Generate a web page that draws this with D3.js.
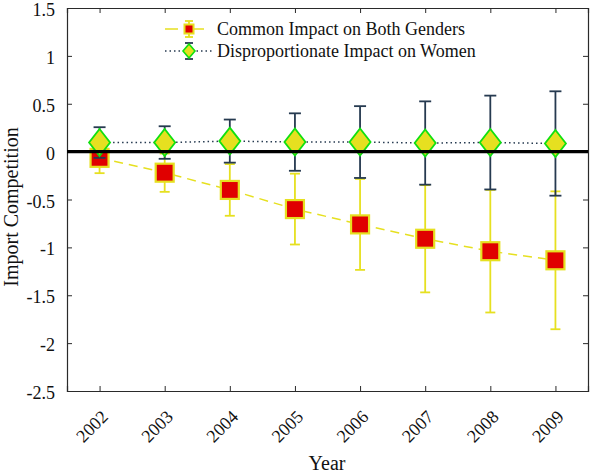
<!DOCTYPE html>
<html>
<head>
<meta charset="utf-8">
<script src="https://cdn.jsdelivr.net/npm/d3@7"></script>
<style>
  body { margin: 0; background: #fff; }
  svg { display: block; }
  text { font-family: "Liberation Serif", "Times New Roman", Times, "DejaVu Serif", serif; fill: #111; }
</style>
</head>
<body>
<svg id="chart" width="592" height="474"></svg>
<script>
// Years on the x axis
const years = [2002, 2003, 2004, 2005, 2006, 2007, 2008, 2009];

// Common impact on both genders: estimate and error-bar half width
const commonValues = [-0.065, -0.22, -0.40, -0.60, -0.76, -0.91, -1.04, -1.135];
const commonErr    = [0.16, 0.20, 0.27, 0.37, 0.475, 0.56, 0.64, 0.72];

// Disproportionate impact on women: estimate and error-bar half width
const womenValues = [0.095, 0.095, 0.11, 0.10, 0.10, 0.09, 0.095, 0.085];
const womenErr    = [0.16, 0.17, 0.225, 0.30, 0.375, 0.435, 0.49, 0.545];

const yTicks = [1.5, 1, 0.5, 0, -0.5, -1, -1.5, -2, -2.5];

const seriesLabels = ["Common Impact on Both Genders", "Disproportionate Impact on Women"];

const YELLOW = "#e6e020", RED = "#e00000", GREEN = "#10e010", NAVY = "#263a50", AXIS = "#2a2a2a";
const FONT = '"Liberation Serif", "Times New Roman", Times, "DejaVu Serif", serif';

const svg = d3.select("#chart");
const margin = { left: 67, right: 4, top: 8, bottom: 83 };
const W = 592, H = 474;

const x = d3.scaleLinear().domain([2001.5, 2009.5]).range([margin.left, W - margin.right]);
const y = d3.scaleLinear().domain([-2.5, 1.5]).range([H - margin.bottom, margin.top]);

const common = years.map((yr, i) => ({ yr, v: commonValues[i], e: commonErr[i] }));
const women = years.map((yr, i) => ({ yr, v: womenValues[i], e: womenErr[i] }));

// Axes box with inward ticks on all four sides
const axG = svg.append("g");
const axBottom = axG.append("g").attr("transform", `translate(0,${y(-2.5)})`)
  .call(d3.axisBottom(x).tickValues(years).tickSize(-5).tickFormat(d => String(d)));
const axTop = axG.append("g").attr("transform", `translate(0,${y(1.5)})`)
  .call(d3.axisTop(x).tickValues(years).tickSize(-5).tickFormat(""));
const axLeft = axG.append("g").attr("transform", `translate(${x(2001.5)},0)`)
  .call(d3.axisLeft(y).tickValues(yTicks).tickSize(-5).tickPadding(12).tickFormat(d => String(d)));
const axRight = axG.append("g").attr("transform", `translate(${x(2009.5)},0)`)
  .call(d3.axisRight(y).tickValues(yTicks).tickSize(-5).tickFormat(""));

[axBottom, axTop, axLeft, axRight].forEach(g => {
  g.attr("font-family", FONT);
  g.select(".domain").attr("stroke", AXIS).attr("stroke-width", 1.2);
  g.selectAll(".tick line").attr("stroke", AXIS).attr("stroke-width", 1);
});
axLeft.selectAll(".tick text").attr("font-size", 18).attr("fill", "#111").attr("dy", "0.42em");
axBottom.selectAll(".tick text")
  .attr("font-size", 18).attr("fill", "#111")
  .attr("text-anchor", "end")
  .attr("dy", null).attr("y", null)
  .attr("transform", "translate(9,27) rotate(-45)");

// Error bars helper
function errorBars(data, color, width, cap) {
  const g = svg.append("g").attr("stroke", color).attr("stroke-width", width).attr("fill", "none");
  data.forEach(d => {
    const cx = x(d.yr), y0 = y(d.v - d.e), y1 = y(d.v + d.e);
    g.append("line").attr("x1", cx).attr("x2", cx).attr("y1", y0).attr("y2", y1);
    g.append("line").attr("x1", cx - cap).attr("x2", cx + cap).attr("y1", y0).attr("y2", y0);
    g.append("line").attr("x1", cx - cap).attr("x2", cx + cap).attr("y1", y1).attr("y2", y1);
  });
}

const line = d3.line().x(d => x(d.yr)).y(d => y(d.v));

// Common impact series
errorBars(common, YELLOW, 1.8, 5);
svg.append("path").datum(common).attr("d", line)
  .attr("fill", "none").attr("stroke", YELLOW).attr("stroke-width", 1.5).attr("stroke-dasharray", "9,6");
svg.append("g").selectAll("rect").data(common).join("rect")
  .attr("x", d => x(d.yr) - 9).attr("y", d => y(d.v) - 9)
  .attr("width", 18).attr("height", 18)
  .attr("fill", RED).attr("stroke", YELLOW).attr("stroke-width", 2.2);

// Women series
errorBars(women, NAVY, 1.8, 6);
svg.append("path").datum(women).attr("d", line)
  .attr("fill", "none").attr("stroke", NAVY).attr("stroke-width", 1.5).attr("stroke-dasharray", "1.5,3");
const diamond = (cx, cy, hw, hh) => `M${cx},${cy - hh}L${cx + hw},${cy}L${cx},${cy + hh}L${cx - hw},${cy}Z`;
svg.append("g").selectAll("path").data(women).join("path")
  .attr("d", d => diamond(x(d.yr), y(d.v), 10.5, 13.5))
  .attr("fill", YELLOW).attr("stroke", GREEN).attr("stroke-width", 1.8);

// Zero reference line
svg.append("line")
  .attr("x1", x(2001.5)).attr("x2", x(2009.5)).attr("y1", y(0)).attr("y2", y(0))
  .attr("stroke", "#000").attr("stroke-width", 3.2);

// Axis titles
svg.append("text").attr("x", 327).attr("y", 470).attr("text-anchor", "middle")
  .attr("font-size", 20).text("Year");
svg.append("text").attr("transform", "translate(18,207) rotate(-90)")
  .attr("text-anchor", "middle").attr("font-size", 20).text("Import Competition");

// Legend
const lg = svg.append("g");
const lx0 = 165, lx1 = 213, lmx = 189;
const rows = [29, 51];
// row 1
lg.append("line").attr("x1", lx0).attr("x2", lx1).attr("y1", rows[0]).attr("y2", rows[0])
  .attr("stroke", YELLOW).attr("stroke-width", 1.5).attr("stroke-dasharray", "13,13");
lg.append("line").attr("x1", lmx).attr("x2", lmx).attr("y1", rows[0] - 8).attr("y2", rows[0] + 8)
  .attr("stroke", YELLOW).attr("stroke-width", 1.8);
[-8, 8].forEach(o => lg.append("line").attr("x1", lmx - 4).attr("x2", lmx + 4)
  .attr("y1", rows[0] + o).attr("y2", rows[0] + o).attr("stroke", YELLOW).attr("stroke-width", 1.8));
lg.append("rect").attr("x", lmx - 4.5).attr("y", rows[0] - 4.5).attr("width", 9).attr("height", 9)
  .attr("fill", RED).attr("stroke", YELLOW).attr("stroke-width", 2);
// row 2
lg.append("line").attr("x1", lx0).attr("x2", lx1).attr("y1", rows[1]).attr("y2", rows[1])
  .attr("stroke", NAVY).attr("stroke-width", 1.5).attr("stroke-dasharray", "1.5,3");
lg.append("line").attr("x1", lmx).attr("x2", lmx).attr("y1", rows[1] - 8).attr("y2", rows[1] + 8)
  .attr("stroke", NAVY).attr("stroke-width", 1.8);
[-8, 8].forEach(o => lg.append("line").attr("x1", lmx - 4).attr("x2", lmx + 4)
  .attr("y1", rows[1] + o).attr("y2", rows[1] + o).attr("stroke", NAVY).attr("stroke-width", 1.8));
lg.append("path").attr("d", diamond(lmx, rows[1], 6, 7))
  .attr("fill", YELLOW).attr("stroke", GREEN).attr("stroke-width", 1.6);
seriesLabels.forEach((t, i) => lg.append("text").attr("x", 217).attr("y", rows[i])
  .attr("dy", "0.35em").attr("font-size", 18).text(t));
</script>
</body>
</html>
